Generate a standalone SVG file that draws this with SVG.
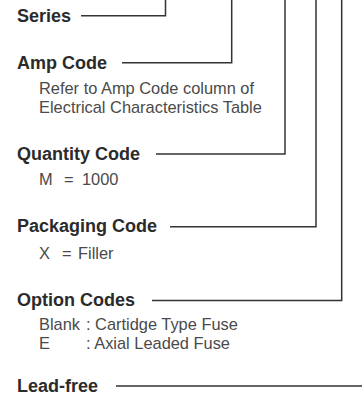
<svg xmlns="http://www.w3.org/2000/svg" width="362" height="400" viewBox="0 0 362 400">
<style>
.h{font-family:"Liberation Sans",Arial,sans-serif;font-weight:bold;font-size:18px;fill:#2b2b2b}
.t{font-family:"Liberation Sans",Arial,sans-serif;font-size:16.4px;fill:#4a4a4a}
.c{fill:none;stroke:#333;stroke-width:1.5}
</style>
<rect width="362" height="400" fill="#fff"/>
<g id="connectors">
<polyline class="c" points="81,15.7 165.5,15.7 165.5,0"/>
<polyline class="c" points="122,62.7 231.7,62.7 231.7,0"/>
<polyline class="c" points="156,154 285,154 285,0"/>
<polyline class="c" points="170,226.7 316,226.7 316,0"/>
<polyline class="c" points="152,300.5 341.7,300.5 341.7,0"/>
<line class="c" x1="116" y1="386" x2="362" y2="386"/>
</g>
<g id="series"><text class="h" x="17" y="22">Series</text></g>
<g id="amp-code">
<text class="h" x="17" y="69">Amp Code</text>
<text class="t" x="39" y="93.5">Refer to Amp Code column of</text>
<text class="t" x="39" y="112.5">Electrical Characteristics Table</text>
</g>
<g id="quantity-code">
<text class="h" x="17" y="160">Quantity Code</text>
<text class="t" x="39" y="185">M</text><text class="t" x="64" y="185">=</text><text class="t" x="82" y="185">1000</text>
</g>
<g id="packaging-code">
<text class="h" x="17" y="232">Packaging Code</text>
<text class="t" x="39" y="259">X</text><text class="t" x="62" y="259">=</text><text class="t" x="78" y="259">Filler</text>
</g>
<g id="option-codes">
<text class="h" x="17" y="306">Option Codes</text>
<text class="t" x="39" y="330">Blank</text><text class="t" x="86" y="330">: Cartidge Type Fuse</text>
<text class="t" x="39" y="349">E</text><text class="t" x="86" y="349">: Axial Leaded Fuse</text>
</g>
<g id="lead-free"><text class="h" x="17" y="392">Lead-free</text></g>
</svg>
